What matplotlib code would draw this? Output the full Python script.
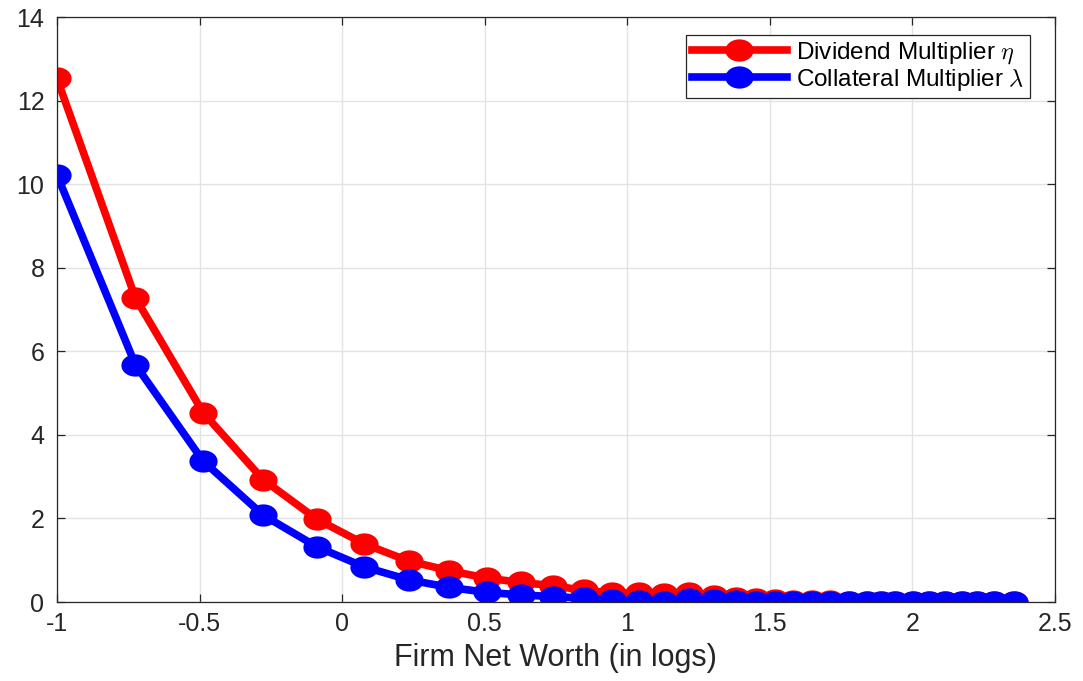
import numpy as np
import matplotlib
matplotlib.use("Agg")
import matplotlib.pyplot as plt
from matplotlib.path import Path

# ---- data ----
net_worth = [-1.0, -0.725, -0.487, -0.277, -0.088, 0.078, 0.234, 0.376, 0.508,
             0.627, 0.739, 0.848, 0.946, 1.042, 1.128, 1.216, 1.303, 1.381,
             1.451, 1.518, 1.580, 1.647, 1.713, 1.777, 1.840, 1.889, 1.941,
             2.001, 2.057, 2.116, 2.176, 2.228, 2.288, 2.355]
dividend_eta = [12.53, 7.28, 4.53, 2.93, 1.98, 1.39, 0.98, 0.75, 0.57,
                0.47, 0.39, 0.28, 0.22, 0.21, 0.20, 0.22, 0.15, 0.10,
                0.07, 0.04, 0.03, 0.02, 0.02, 0.01, 0.01, 0.01, 0.01,
                0.01, 0.01, 0.0, 0.0, 0.0, 0.0, 0.0]
collateral_lambda = [10.22, 5.68, 3.37, 2.08, 1.32, 0.84, 0.53, 0.35, 0.23,
                     0.17, 0.13, 0.09, 0.05, 0.02, 0.01, 0.07, 0.05, 0.02,
                     0.01, 0.01, 0.0, 0.0, 0.0, 0.0, 0.0, 0.0, 0.0,
                     0.0, 0.0, 0.0, 0.0, 0.0, 0.0, 0.0]
x_ticks = [-1, -0.5, 0, 0.5, 1, 1.5, 2, 2.5]
x_tick_labels = ["-1", "-0.5", "0", "0.5", "1", "1.5", "2", "2.5"]
y_ticks = [0, 2, 4, 6, 8, 10, 12, 14]
y_tick_labels = ["0", "2", "4", "6", "8", "10", "12", "14"]
labels = [r"Dividend Multiplier $\eta$", r"Collateral Multiplier $\lambda$"]

plt.rcParams["font.family"] = ["Liberation Sans", "DejaVu Sans"]
plt.rcParams["mathtext.fontset"] = "cm"
plt.rcParams["axes.unicode_minus"] = False

# horizontally stretched circle marker (reference image is stretched)
t = np.linspace(0, 2 * np.pi, 60)
ell = Path(np.column_stack([1.35 * np.cos(t), np.sin(t)]), closed=True)

fig = plt.figure(figsize=(10.83, 6.81), dpi=100)
ax = fig.add_axes([0.0526, 0.116, 0.9214, 0.859])

common = dict(linewidth=5.5, marker=ell, markersize=16.5, markeredgewidth=3.8)
ax.plot(net_worth, dividend_eta, color="#ff0000", markerfacecolor="#ff0000",
        markeredgecolor="#ff0000", label=labels[0], **common)
ax.plot(net_worth, collateral_lambda, color="#0000ff", markerfacecolor="#0000ff",
        markeredgecolor="#0000ff", label=labels[1], **common)

ax.set_xlim(-1, 2.5)
ax.set_ylim(0, 14)
ax.set_xticks(x_ticks)
ax.set_xticklabels(x_tick_labels)
ax.set_yticks(y_ticks)
ax.set_yticklabels(y_tick_labels)

ax.grid(True, color="#e3e3e3", linewidth=1.0)
ax.set_axisbelow(True)
for s in ax.spines.values():
    s.set_color("#262626")
    s.set_linewidth(0.9)
ax.tick_params(direction="in", length=6, width=0.9, color="#262626",
               top=True, right=True, labelsize=18, labelcolor="#262626")
ax.tick_params(axis="x", pad=7)
ax.tick_params(axis="y", pad=9)

ax.set_xlabel("Firm Net Worth (in logs)", fontsize=22, color="#262626", labelpad=5)

leg = ax.legend(loc="upper right", bbox_to_anchor=(0.975, 0.969), borderaxespad=0,
                fontsize=17.5, handlelength=3.9, numpoints=1, fancybox=False,
                framealpha=1, edgecolor="#262626", labelspacing=0.02,
                handletextpad=0.4, borderpad=0.22)
leg.get_frame().set_linewidth(0.9)

fig.savefig("out.png", dpi=100)
